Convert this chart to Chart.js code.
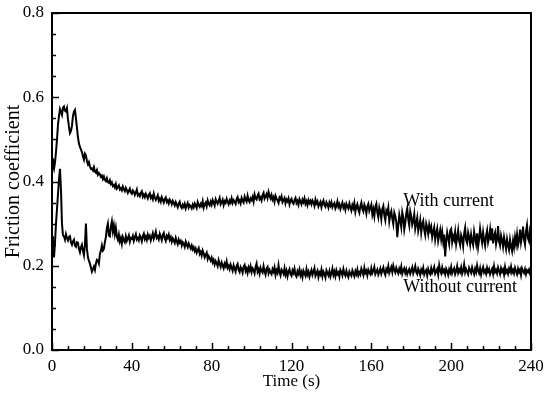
<!DOCTYPE html>
<html>
<head>
<meta charset="utf-8">
<script src="https://cdn.jsdelivr.net/npm/chart.js@4.4.0/dist/chart.umd.min.js"></script>
<style>
  html, body { margin: 0; padding: 0; background: #fff; }
  #wrap { width: 550px; height: 396px; }
</style>
</head>
<body>
<div id="wrap"><canvas id="friction"></canvas></div>
<script>
// friction coefficient, one sample every 0.5 s (0..240 s)
const withCurrent = [
  0.455, 0.440, 0.430, 0.445, 0.470, 0.500, 0.535, 0.555, 0.572, 0.565, 0.558, 0.575, 0.578, 0.568, 0.566, 0.574, 0.548, 0.530, 0.515, 0.520,
  0.532, 0.555, 0.566, 0.570, 0.550, 0.528, 0.505, 0.490, 0.482, 0.476, 0.470, 0.460, 0.452, 0.466, 0.462, 0.448, 0.441, 0.446, 0.436, 0.430,
  0.431, 0.426, 0.434, 0.424, 0.421, 0.427, 0.416, 0.420, 0.417, 0.411, 0.414, 0.406, 0.412, 0.404, 0.401, 0.408, 0.399, 0.397, 0.403, 0.394,
  0.398, 0.389, 0.392, 0.386, 0.394, 0.383, 0.387, 0.391, 0.381, 0.384, 0.379, 0.388, 0.382, 0.377, 0.385, 0.380, 0.373, 0.378, 0.383, 0.374,
  0.371, 0.379, 0.376, 0.368, 0.374, 0.381, 0.367, 0.370, 0.365, 0.373, 0.377, 0.364, 0.369, 0.363, 0.371, 0.366, 0.360, 0.368, 0.372, 0.361,
  0.365, 0.358, 0.371, 0.362, 0.356, 0.361, 0.367, 0.354, 0.359, 0.352, 0.363, 0.357, 0.350, 0.358, 0.362, 0.351, 0.355, 0.348, 0.357, 0.353,
  0.346, 0.354, 0.349, 0.343, 0.351, 0.345, 0.339, 0.348, 0.352, 0.341, 0.337, 0.345, 0.340, 0.347, 0.336, 0.343, 0.349, 0.338, 0.344, 0.341,
  0.336, 0.345, 0.339, 0.348, 0.343, 0.337, 0.351, 0.344, 0.340, 0.347, 0.342, 0.353, 0.338, 0.346, 0.350, 0.341, 0.355, 0.347, 0.343, 0.352,
  0.345, 0.356, 0.350, 0.343, 0.358, 0.352, 0.347, 0.354, 0.361, 0.346, 0.351, 0.357, 0.344, 0.353, 0.349, 0.359, 0.352, 0.346, 0.355, 0.350,
  0.360, 0.349, 0.356, 0.352, 0.347, 0.358, 0.363, 0.351, 0.355, 0.348, 0.361, 0.354, 0.350, 0.364, 0.357, 0.352, 0.366, 0.355, 0.351, 0.360,
  0.356, 0.363, 0.352, 0.369, 0.360, 0.357, 0.366, 0.371, 0.358, 0.362, 0.355, 0.368, 0.373, 0.359, 0.364, 0.370, 0.361, 0.375, 0.366, 0.360,
  0.368, 0.357, 0.363, 0.352, 0.366, 0.360, 0.355, 0.349, 0.362, 0.358, 0.365, 0.351, 0.356, 0.361, 0.348, 0.357, 0.353, 0.360, 0.346, 0.355,
  0.359, 0.350, 0.347, 0.356, 0.361, 0.349, 0.354, 0.345, 0.358, 0.352, 0.346, 0.357, 0.351, 0.360, 0.347, 0.353, 0.344, 0.356, 0.349, 0.354,
  0.346, 0.355, 0.350, 0.342, 0.357, 0.348, 0.353, 0.341, 0.347, 0.352, 0.339, 0.349, 0.355, 0.344, 0.340, 0.351, 0.346, 0.338, 0.350, 0.343,
  0.351, 0.339, 0.345, 0.349, 0.336, 0.342, 0.353, 0.340, 0.346, 0.335, 0.343, 0.350, 0.338, 0.344, 0.333, 0.347, 0.341, 0.336, 0.348, 0.339,
  0.331, 0.344, 0.337, 0.349, 0.328, 0.340, 0.346, 0.333, 0.326, 0.342, 0.350, 0.335, 0.329, 0.345, 0.338, 0.324, 0.341, 0.347, 0.330, 0.337,
  0.345, 0.322, 0.334, 0.318, 0.340, 0.347, 0.326, 0.315, 0.338, 0.329, 0.311, 0.335, 0.342, 0.320, 0.308, 0.331, 0.325, 0.338, 0.306, 0.322,
  0.330, 0.312, 0.299, 0.326, 0.318, 0.304, 0.268, 0.295, 0.321, 0.308, 0.292, 0.327, 0.315, 0.286, 0.301, 0.324, 0.336, 0.310, 0.296, 0.329,
  0.318, 0.297, 0.306, 0.322, 0.288, 0.301, 0.314, 0.283, 0.295, 0.309, 0.279, 0.298, 0.306, 0.285, 0.273, 0.300, 0.291, 0.276, 0.297, 0.284,
  0.293, 0.268, 0.281, 0.291, 0.262, 0.277, 0.288, 0.259, 0.272, 0.285, 0.263, 0.280, 0.257, 0.274, 0.222, 0.258, 0.279, 0.266, 0.252, 0.283,
  0.287, 0.256, 0.270, 0.262, 0.280, 0.251, 0.266, 0.284, 0.259, 0.249, 0.273, 0.265, 0.247, 0.276, 0.290, 0.261, 0.254, 0.279, 0.268, 0.251,
  0.274, 0.258, 0.249, 0.281, 0.266, 0.252, 0.277, 0.245, 0.263, 0.288, 0.270, 0.255, 0.279, 0.261, 0.248, 0.272, 0.284, 0.256, 0.267, 0.286,
  0.260, 0.289, 0.253, 0.271, 0.279, 0.251, 0.264, 0.294, 0.258, 0.248, 0.272, 0.261, 0.245, 0.268, 0.254, 0.240, 0.263, 0.249, 0.238, 0.262,
  0.246, 0.235, 0.259, 0.244, 0.268, 0.252, 0.274, 0.249, 0.260, 0.286, 0.256, 0.271, 0.293, 0.262, 0.250, 0.281, 0.296, 0.265, 0.258, 0.284,
  0.275
];

const withoutCurrent = [
  0.270, 0.240, 0.220, 0.255, 0.300, 0.335, 0.370, 0.405, 0.430, 0.380, 0.300, 0.272, 0.270, 0.262, 0.275, 0.266, 0.260, 0.268, 0.270, 0.256,
  0.250, 0.258, 0.262, 0.248, 0.245, 0.256, 0.255, 0.240, 0.232, 0.244, 0.250, 0.236, 0.225, 0.250, 0.300, 0.240, 0.220, 0.212, 0.205, 0.196,
  0.186, 0.192, 0.198, 0.190, 0.205, 0.214, 0.212, 0.205, 0.228, 0.236, 0.248, 0.236, 0.240, 0.256, 0.268, 0.290, 0.300, 0.272, 0.270, 0.292,
  0.305, 0.282, 0.296, 0.275, 0.290, 0.270, 0.262, 0.274, 0.258, 0.266, 0.252, 0.268, 0.261, 0.256, 0.270, 0.259, 0.265, 0.272, 0.257, 0.266,
  0.264, 0.271, 0.259, 0.268, 0.275, 0.262, 0.266, 0.260, 0.272, 0.267, 0.258, 0.270, 0.276, 0.263, 0.269, 0.261, 0.274, 0.266, 0.271, 0.260,
  0.268, 0.277, 0.264, 0.272, 0.281, 0.266, 0.270, 0.263, 0.276, 0.269, 0.261, 0.273, 0.278, 0.265, 0.259, 0.271, 0.266, 0.274, 0.262, 0.268,
  0.257, 0.265, 0.260, 0.254, 0.266, 0.258, 0.251, 0.262, 0.255, 0.259, 0.248, 0.256, 0.252, 0.245, 0.257, 0.250, 0.244, 0.253, 0.247, 0.241,
  0.248, 0.239, 0.244, 0.235, 0.241, 0.231, 0.237, 0.242, 0.228, 0.233, 0.224, 0.236, 0.229, 0.220, 0.226, 0.231, 0.216, 0.223, 0.218, 0.212,
  0.219, 0.208, 0.214, 0.203, 0.211, 0.206, 0.199, 0.213, 0.204, 0.197, 0.208, 0.201, 0.194, 0.205, 0.199, 0.210, 0.195, 0.200, 0.192, 0.203,
  0.196, 0.188, 0.201, 0.193, 0.186, 0.199, 0.204, 0.190, 0.185, 0.197, 0.192, 0.184, 0.198, 0.202, 0.187, 0.193, 0.183, 0.196, 0.189, 0.199,
  0.185, 0.194, 0.190, 0.182, 0.197, 0.205, 0.186, 0.192, 0.181, 0.195, 0.188, 0.184, 0.199, 0.187, 0.179, 0.193, 0.197, 0.182, 0.190, 0.184,
  0.180, 0.192, 0.186, 0.196, 0.178, 0.189, 0.183, 0.201, 0.185, 0.177, 0.191, 0.187, 0.181, 0.194, 0.179, 0.188, 0.175, 0.186, 0.192, 0.180,
  0.176, 0.189, 0.183, 0.193, 0.178, 0.174, 0.187, 0.181, 0.191, 0.177, 0.185, 0.173, 0.188, 0.182, 0.176, 0.192, 0.179, 0.186, 0.174, 0.183,
  0.190, 0.178, 0.185, 0.194, 0.176, 0.182, 0.188, 0.173, 0.184, 0.179, 0.191, 0.175, 0.186, 0.181, 0.172, 0.189, 0.183, 0.177, 0.187, 0.174,
  0.182, 0.193, 0.178, 0.186, 0.175, 0.189, 0.180, 0.184, 0.174, 0.190, 0.185, 0.177, 0.192, 0.181, 0.176, 0.188, 0.179, 0.173, 0.186, 0.180,
  0.176, 0.189, 0.182, 0.175, 0.187, 0.180, 0.191, 0.177, 0.184, 0.179, 0.193, 0.186, 0.178, 0.195, 0.183, 0.188, 0.177, 0.190, 0.184, 0.180,
  0.194, 0.182, 0.188, 0.197, 0.180, 0.186, 0.191, 0.179, 0.185, 0.193, 0.181, 0.189, 0.196, 0.184, 0.178, 0.192, 0.187, 0.199, 0.183, 0.190,
  0.197, 0.185, 0.200, 0.190, 0.184, 0.195, 0.188, 0.182, 0.193, 0.186, 0.198, 0.181, 0.189, 0.194, 0.183, 0.191, 0.180, 0.187, 0.192, 0.181,
  0.188, 0.196, 0.182, 0.190, 0.199, 0.184, 0.180, 0.193, 0.187, 0.178, 0.191, 0.185, 0.195, 0.179, 0.186, 0.190, 0.177, 0.192, 0.184, 0.180,
  0.194, 0.183, 0.189, 0.197, 0.181, 0.186, 0.192, 0.179, 0.201, 0.188, 0.182, 0.196, 0.185, 0.190, 0.180, 0.193, 0.187, 0.178, 0.191, 0.184,
  0.197, 0.182, 0.189, 0.194, 0.180, 0.187, 0.199, 0.183, 0.191, 0.185, 0.196, 0.181, 0.188, 0.203, 0.184, 0.192, 0.186, 0.180, 0.195, 0.189,
  0.183, 0.196, 0.187, 0.180, 0.193, 0.185, 0.201, 0.188, 0.182, 0.194, 0.179, 0.190, 0.197, 0.184, 0.189, 0.181, 0.195, 0.186, 0.192, 0.180,
  0.187, 0.193, 0.181, 0.199, 0.185, 0.190, 0.182, 0.196, 0.188, 0.180, 0.194, 0.186, 0.191, 0.179, 0.197, 0.184, 0.189, 0.181, 0.193, 0.186,
  0.198, 0.184, 0.190, 0.182, 0.195, 0.187, 0.180, 0.193, 0.185, 0.191, 0.178, 0.194, 0.188, 0.183, 0.192, 0.180, 0.189, 0.185, 0.191, 0.181,
  0.184
];

const seriesNames = ['With current', 'Without current'];
const xTicks = [0, 40, 80, 120, 160, 200, 240];
const yTicks = [0.0, 0.2, 0.4, 0.6, 0.8];

// samples are 0.5 s apart, starting at 0 s
const toPoints = arr => arr.map((v, i) => ({x: i * 0.5, y: v}));

const serif = "'Liberation Serif', 'Times New Roman', serif";

// inward tick marks, closed frame and the two curve labels
const framePlugin = {
    id: 'frame',
    afterDraw(chart) {
        const {ctx, chartArea: a, scales: {x, y}} = chart;
        ctx.save();
        ctx.strokeStyle = '#000';
        ctx.lineWidth = 1.5;
        ctx.beginPath();
        // x: major every 40, minor every 8
        for (let t = 0; t <= 240; t += 8) {
            const px = Math.round(x.getPixelForValue(t)) + 0.5;
            const len = t % 40 === 0 ? 7 : 4;
            ctx.moveTo(px, a.bottom);
            ctx.lineTo(px, a.bottom - len);
        }
        // y: major every 0.2, minor every 0.05
        for (let k = 0; k <= 16; k++) {
            const py = Math.round(y.getPixelForValue(k * 0.05)) + 0.5;
            const len = k % 4 === 0 ? 7 : 4;
            ctx.moveTo(a.left, py);
            ctx.lineTo(a.left + len, py);
        }
        ctx.stroke();

        ctx.lineWidth = 2;
        ctx.strokeRect(a.left, a.top, a.right - a.left, a.bottom - a.top);

        ctx.fillStyle = '#000';
        ctx.font = '18px ' + serif;
        ctx.textAlign = 'left';
        ctx.textBaseline = 'alphabetic';
        ctx.fillText(seriesNames[0], x.getPixelForValue(176), y.getPixelForValue(0.342));
        ctx.fillText(seriesNames[1], x.getPixelForValue(176), y.getPixelForValue(0.138));
        ctx.restore();
    }
};

new Chart(document.getElementById('friction'), {
    type: 'line',
    data: {
        datasets: [{
            label: seriesNames[0],
            data: toPoints(withCurrent),
            borderColor: '#000',
            borderWidth: 2,
            pointRadius: 0,
            tension: 0
        }, {
            label: seriesNames[1],
            data: toPoints(withoutCurrent),
            borderColor: '#000',
            borderWidth: 2,
            pointRadius: 0,
            tension: 0
        }]
    },
    options: {
        responsive: true,
        maintainAspectRatio: false,
        animation: false,
        layout: {
            padding: {top: 13, right: 19, left: 0, bottom: 0}
        },
        plugins: {
            legend: {display: false},
            tooltip: {enabled: false}
        },
        scales: {
            x: {
                type: 'linear',
                min: 0,
                max: 240,
                afterBuildTicks: s => { s.ticks = xTicks.map(v => ({value: v})); },
                afterFit: s => { s.height = 46; },
                grid: {display: false, drawTicks: false},
                border: {display: false},
                ticks: {
                    color: '#000',
                    padding: 6,
                    maxRotation: 0,
                    font: {family: serif, size: 17}
                },
                title: {
                    display: true,
                    text: 'Time (s)',
                    color: '#000',
                    padding: {top: 0, bottom: 4},
                    font: {family: serif, size: 17}
                }
            },
            y: {
                min: 0,
                max: 0.8,
                afterBuildTicks: s => { s.ticks = yTicks.map(v => ({value: v})); },
                // fixed axis width, and no extra room above the top label
                afterFit: s => { s.width = 52; s.paddingTop = 0; s.paddingBottom = 0; },
                grid: {display: false, drawTicks: false},
                border: {display: false},
                ticks: {
                    color: '#000',
                    padding: 8,
                    font: {family: serif, size: 17},
                    callback: v => v.toFixed(1)
                },
                title: {
                    display: true,
                    text: 'Friction coefficient',
                    color: '#000',
                    padding: {top: 2, bottom: 0},
                    font: {family: serif, size: 20}
                }
            }
        }
    },
    plugins: [framePlugin]
});
</script>
</body>
</html>
